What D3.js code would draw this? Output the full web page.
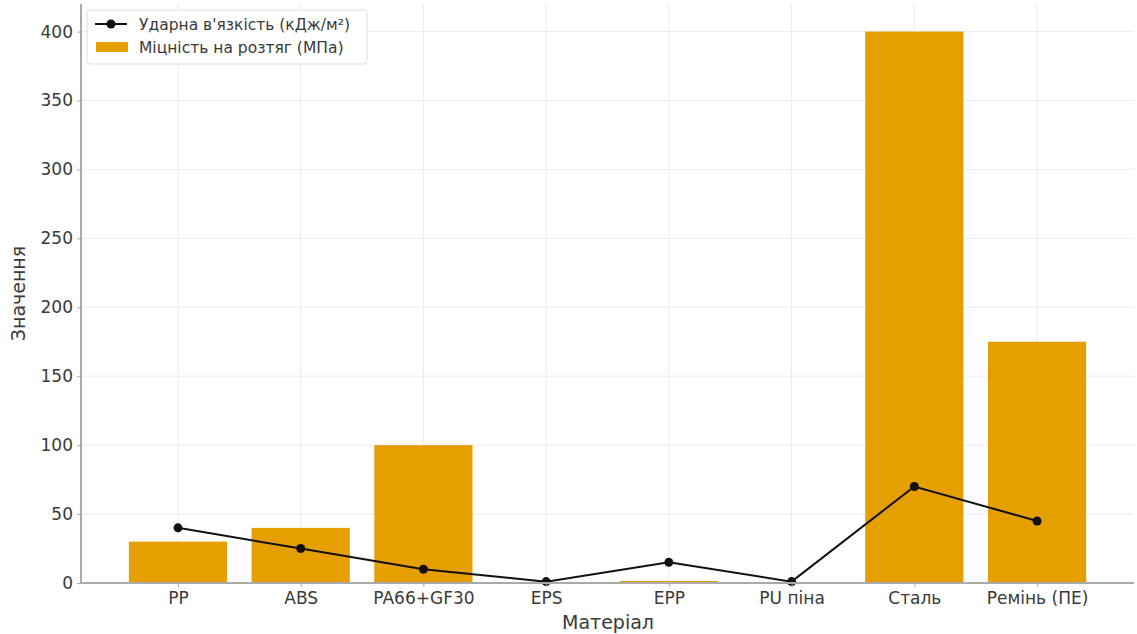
<!DOCTYPE html>
<html>
<head>
<meta charset="utf-8">
<script src="https://cdn.jsdelivr.net/npm/d3@7"></script>
<style>
  html, body { margin: 0; padding: 0; background: #fff; }
  svg { display: block; font-family: "DejaVu Sans", sans-serif; }
</style>
</head>
<body>
<svg id="chart" width="1137" height="634"></svg>
<script>
// Materials compared
const materials = ["PP", "ABS", "PA66+GF30", "EPS", "EPP", "PU піна", "Сталь", "Ремінь (ПЕ)"];
// Tensile strength, MPa (bars)
const tensileStrength = [30, 40, 100, 0.5, 1.5, 0.3, 400, 175];
// Impact toughness, kJ/m² (line)
const impactToughness = [40, 25, 10, 1, 15, 1, 70, 45];
// Y tick values
const yTicks = [0, 50, 100, 150, 200, 250, 300, 350, 400];

const svg = d3.select("#chart");
const margin = { left: 81, right: 3, top: 4, bottom: 51 };
const W = 1137, H = 634;
const plotL = margin.left, plotR = W - margin.right;
const plotT = margin.top, plotB = H - margin.bottom;

const x = d3.scaleLinear().domain([-0.79, materials.length - 1 + 0.79]).range([plotL, plotR]);
const y = d3.scaleLinear().domain([0, 420]).range([plotB, plotT]);
const barW = x(0.8) - x(0);

// grid
const grid = svg.append("g");
grid.selectAll("line.gy").data(yTicks).join("line")
  .attr("x1", plotL).attr("x2", plotR)
  .attr("y1", d => y(d)).attr("y2", d => y(d))
  .attr("stroke", "#ebebeb").attr("stroke-width", 1);
grid.selectAll("line.gx").data(materials).join("line")
  .attr("x1", (d, i) => x(i)).attr("x2", (d, i) => x(i))
  .attr("y1", plotT).attr("y2", plotB)
  .attr("stroke", "#ebebeb").attr("stroke-width", 1);

// bars
svg.append("g").selectAll("rect").data(tensileStrength).join("rect")
  .attr("x", (d, i) => x(i) - barW / 2)
  .attr("width", barW)
  .attr("y", d => y(d))
  .attr("height", d => y(0) - y(d))
  .attr("fill", "#E69F00");

// line
const pts = impactToughness.map((v, i) => [x(i), y(v)]);
svg.append("path")
  .attr("d", d3.line()(pts))
  .attr("fill", "none").attr("stroke", "#111").attr("stroke-width", 2);
svg.append("g").selectAll("circle").data(pts).join("circle")
  .attr("cx", d => d[0]).attr("cy", d => d[1]).attr("r", 4.5).attr("fill", "#111");

// axes
const yAxis = d3.axisLeft(y).tickValues(yTicks).tickSize(4).tickPadding(4);
const gy = svg.append("g").attr("transform", `translate(${plotL},0)`).call(yAxis);
const xAxis = d3.axisBottom(x).tickValues(d3.range(materials.length))
  .tickFormat(i => materials[i]).tickSize(4).tickPadding(5);
const gx = svg.append("g").attr("transform", `translate(0,${plotB})`).call(xAxis);
[gx, gy].forEach(g => {
  g.select(".domain").attr("stroke", "#aaa").attr("stroke-width", 2);
  g.selectAll(".tick line").attr("stroke", "#aaa");
  g.selectAll(".tick text").attr("fill", "#3a3a3a").style("font-size", "17px")
    .style("font-family", "'DejaVu Sans', sans-serif");
});
gx.select(".domain").attr("d", `M${plotL},0H${plotR}`);
gy.select(".domain").attr("d", `M0,${plotB}V${plotT}`);

// axis titles
svg.append("text").attr("x", 608).attr("y", 629)
  .attr("text-anchor", "middle").attr("fill", "#3a3a3a").style("font-size", "19px")
  .text("Матеріал");
svg.append("text").attr("transform", `translate(25,${(plotT + plotB) / 2}) rotate(-90)`)
  .attr("text-anchor", "middle").attr("fill", "#3a3a3a").style("font-size", "19px")
  .text("Значення");

// legend
const lg = svg.append("g").attr("transform", "translate(87,10)");
lg.append("rect").attr("width", 280).attr("height", 54).attr("rx", 3)
  .attr("fill", "#fff").attr("fill-opacity", 0.85).attr("stroke", "#ddd");
lg.append("line").attr("x1", 8).attr("x2", 40).attr("y1", 14).attr("y2", 14)
  .attr("stroke", "#111").attr("stroke-width", 2);
lg.append("circle").attr("cx", 24).attr("cy", 14).attr("r", 4.5).attr("fill", "#111");
lg.append("rect").attr("x", 9).attr("y", 32).attr("width", 32).attr("height", 10).attr("fill", "#E69F00");
lg.append("text").attr("x", 52).attr("y", 19.5).attr("fill", "#3a3a3a").style("font-size", "15.5px")
  .text("Ударна в'язкість (кДж/м²)");
lg.append("text").attr("x", 52).attr("y", 42.5).attr("fill", "#3a3a3a").style("font-size", "15.5px")
  .text("Міцність на розтяг (МПа)");
</script>
</body>
</html>
